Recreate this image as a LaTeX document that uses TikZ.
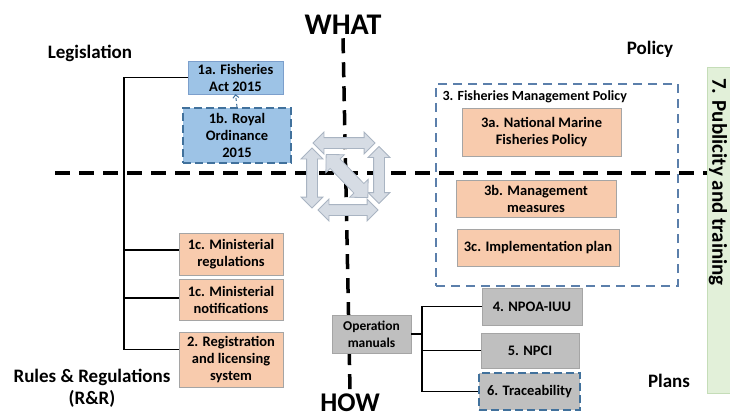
\documentclass[tikz,border=0pt]{standalone}
\usepackage{fontspec}
\setmainfont{Carlito}
\usetikzlibrary{shapes.arrows,arrows.meta}
\definecolor{legblue}{HTML}{9DC3E6}
\definecolor{legline}{HTML}{7C9FCC}
\definecolor{darkblue}{HTML}{41719C}
\definecolor{polblue}{HTML}{5B7FAB}
\definecolor{rrorange}{HTML}{F8CBAD}
\definecolor{boxgray}{HTML}{A5A5A5}
\definecolor{plangray}{HTML}{BFBFBF}
\definecolor{pubgreen}{HTML}{E2F0D9}
\definecolor{publine}{HTML}{C5DDB8}
\definecolor{iconfill}{HTML}{D6DCE4}
\definecolor{iconline}{HTML}{A9B4C2}
\begin{document}
\begin{tikzpicture}[x=1pt, y=-1pt,
    lbl/.style={font=\fontsize{19}{22}\selectfont\bfseries, align=center},
    big/.style={font=\fontsize{30}{32}\selectfont\bfseries},
    box/.style={draw=boxgray, align=center, inner sep=1pt,
        font=\fontsize{14.5}{17}\selectfont\bfseries},
    legbox/.style={box, fill=legblue, draw=legline},
    dashbox/.style={box, fill=legblue, draw=darkblue, line width=2.2pt,
        dash pattern=on 8pt off 4pt},
    rrbox/.style={box, fill=rrorange},
    polbox/.style={box, fill=rrorange},
    planbox/.style={box, fill=plangray},
    tree/.style={line width=1.4pt},
    axis/.style={line width=3.5pt, dash pattern=on 15pt off 9pt},
    cyc/.style={double arrow, draw=iconline, fill=iconfill, line width=0.8pt,
        inner sep=5pt, double arrow head extend=5.5pt}]
    \useasboundingbox (0,0) rectangle (730,417);

    % big labels
    \node[big] (what) at (343, 25) {WHAT};
    \node[big, font=\fontsize{27}{29}\selectfont\bfseries, inner sep=1pt]
        (how) at (350, 403) {HOW};
    \node[lbl] (legis) at (90, 53) {Legislation};
    \node[lbl] (rnr) at (92, 388) {Rules \& Regulations\\(R\&R)};
    \node[lbl] (policy) at (650, 49) {Policy};
    \node[lbl] (plans) at (669, 381) {Plans};

    % publicity
    \node[draw=publine, fill=pubgreen, line width=1pt, minimum width=33,
        minimum height=325] (pub) at (723.5, 230.5) {};
    \node[lbl, font=\fontsize{21}{23}\selectfont\bfseries, rotate=-90] (pubtxt)
        at (718, 182) {7. Publicity and training};

    % axes
    \coordinate (axl) at (55, 173);
    \draw[axis] (what.south) -- ([yshift=3pt]how.north);
    \draw[axis] (axl) -- (axl -| pub.west);

    % cycle icon
    \node[cyc, minimum height=62] (ctop) at (344, 143) {};
    \node[cyc, minimum height=60] (cbot) at (348, 210) {};
    \node[cyc, minimum height=60, rotate=90] (cleft) at (312, 178) {};
    \node[cyc, minimum height=57, rotate=90] (cright) at (379, 175) {};
    \node[cyc, minimum height=60, rotate=-46, inner sep=6.5pt,
        double arrow head extend=6pt] (cdiag) at (347, 176) {};

    % legislation and R&R
    \node[legbox, minimum width=95, minimum height=33] (act) at (235.5, 77.5)
        {1a. Fisheries\\Act 2015};
    \node[dashbox, minimum width=108, minimum height=55] (royal) at (237, 135.5)
        {1b. Royal\\Ordinance\\2015};
    \node[rrbox, minimum width=104, minimum height=42] (mregs) at (231, 254)
        {1c. Ministerial\\regulations};
    \node[rrbox, minimum width=104, minimum height=41] (mnotes) at (231, 300)
        {1c. Ministerial\\notifications};
    \node[rrbox, minimum width=104, minimum height=55] (regsys) at (231, 359.5)
        {2. Registration\\and licensing\\system};
    \draw[darkblue, line width=1pt, dashed, -{Straight Barb[length=3pt]}]
        (royal.north) -- (act.south);

    \coordinate (ljoin) at (124, 250);
    \draw[tree] (act.west) -| (ljoin);
    \draw[tree] ([yshift=10pt]regsys.west) -| (ljoin);
    \draw[tree] (mregs.west |- ljoin) -- (ljoin);
    \draw[tree] ([yshift=2pt]mnotes.west) -- ([yshift=2pt]mnotes.west -| ljoin);

    % policy
    \node[draw=polblue, line width=1.6pt, dash pattern=on 9pt off 6pt,
        minimum width=242, minimum height=202] (fmp) at (557, 185) {};
    \node[anchor=west, font=\fontsize{14}{16}\selectfont\bfseries] (fmptitle)
        at (439, 97) {3. Fisheries Management Policy};
    \node[polbox, minimum width=159, minimum height=48] (nmfp) at (541.5, 132)
        {3a. National Marine\\Fisheries Policy};
    \node[polbox, minimum width=160, minimum height=37] (mgmt) at (536, 198.5)
        {3b. Management\\measures};
    \node[polbox, minimum width=162, minimum height=37] (impl) at (538, 247.5)
        {3c. Implementation plan};

    % plans
    \node[planbox, font=\fontsize{13.5}{17}\selectfont\bfseries,
        minimum width=79, minimum height=38] (opman) at (371.5, 334)
        {Operation\\manuals};
    \node[planbox, minimum width=100, minimum height=37] (npoa) at (532, 306.5)
        {4. NPOA-IUU};
    \node[planbox, minimum width=98, minimum height=35] (npci) at (530, 350.5)
        {5. NPCI};
    \node[planbox, draw=darkblue, line width=2.2pt, dash pattern=on 8pt off 4pt,
        minimum width=101, minimum height=37] (trace) at (529.5, 391.5)
        {6. Traceability};

    \coordinate (ojoin) at (422, 334);
    \draw[tree] (opman.east) -- (ojoin);
    \draw[tree] (npoa.west) -| (ojoin);
    \draw[tree] (trace.west) -| (ojoin);
    \draw[tree] (npci.west) -- (npci.west -| ojoin);
\end{tikzpicture}
\end{document}
